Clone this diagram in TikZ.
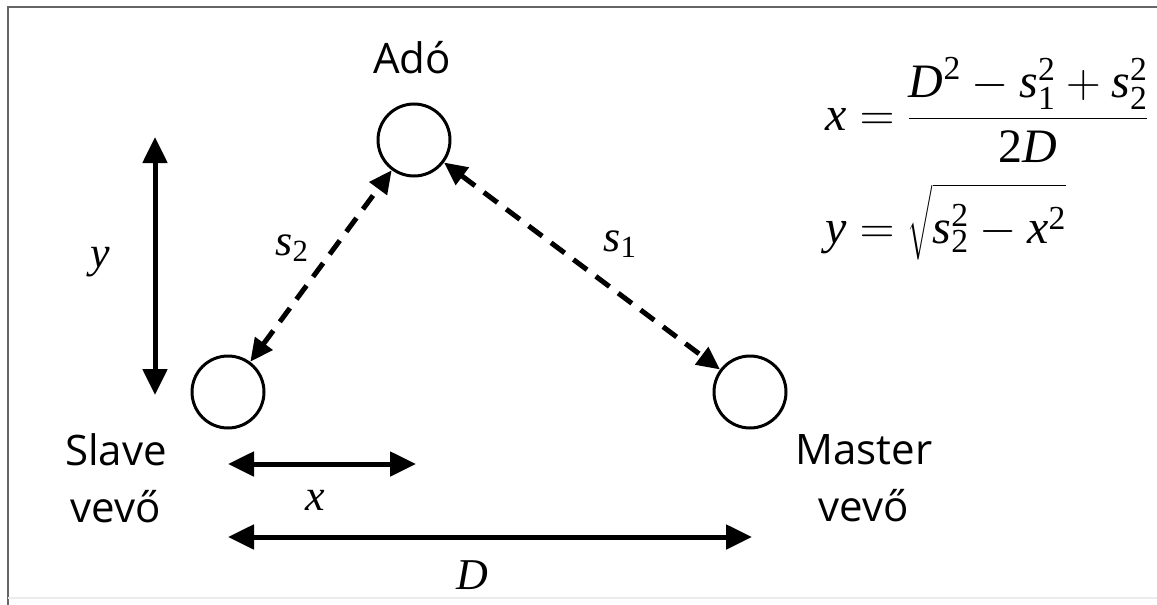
\documentclass[tikz,border=0pt]{standalone}
\usepackage{fix-cm}
\usepackage{amsmath}
\usepackage[no-math]{fontspec}
\setmainfont{Open Sans}
\newfontfamily\tms{Liberation Serif}
\newcommand\mv[1]{\text{\tms\itshape #1}}
\newcommand\mn[1]{\text{\tms #1}}
\usetikzlibrary{arrows.meta}
\begin{document}
\begin{tikzpicture}[x=1pt,y=-1pt,
  dev/.style={circle, draw, line width=3pt, minimum size=72pt, inner sep=0pt},
  lbl/.style={font=\fontsize{42}{57}\selectfont, align=center, inner sep=0pt},
  mlbl/.style={font=\fontsize{44}{52}\selectfont, inner sep=0pt},
  eqlbl/.style={font=\fontsize{48}{56}\selectfont, inner sep=0pt, anchor=base west},
  dimarrow/.style={line width=5pt, {Triangle[length=26pt,width=24pt]}-{Triangle[length=26pt,width=24pt]}},
  rangearrow/.style={line width=5pt, dash pattern=on 17pt off 11pt, {Triangle[length=23pt,width=21pt]}-{Triangle[length=23pt,width=21pt]}},
  frameline/.style={draw=black!60, line width=2pt}]
\useasboundingbox (0,0) rectangle (1157,605);
% frame
\draw[frameline] (1157,7) -- (8,7) -- (8,605);
\draw[draw=black!8, line width=1.5pt] (8,598) -- (1157,598);
% devices
\node[dev] (ado) at (414,140) {};
\node[dev] (slave) at (228,392) {};
\node[dev] (master) at (750,392) {};
% labels
\node[lbl, anchor=base] (adolbl) at (412,73) {Adó};
\node[lbl] (slavelbl) at (116,478) {Slave\\vevő};
\node[lbl] (masterlbl) at (864,478) {Master\\vevő};
% range arrows
\draw[rangearrow] (slave) -- (ado);
\draw[rangearrow] (ado) -- (master);
\node[mlbl] (s2) at (292,248) {$\mv{s}_{\mn{2}}$};
\node[mlbl] (s1) at (620,244) {$\mv{s}_{\mn{1}}$};
% dimension arrows
\coordinate (ytop) at (155,137);
\coordinate (ybot) at (155,395);
\draw[dimarrow] (ybot) -- (ytop);
\node[mlbl] (ylbl) at (100,262) {$\mv{y}$};
\coordinate (xl) at (228,464);
\coordinate (xr) at (416,464);
\draw[dimarrow] (xl) -- (xr);
\node[mlbl] (xlbl) at (315,500) {$\mv{x}$};
\coordinate (dl) at (228,537);
\coordinate (dr) at (752,537);
\draw[dimarrow] (dl) -- (dr);
\node[mlbl] (dlbl) at (472,575) {$\mv{D}$};
% formulas
\node[eqlbl] (eq1) at (825,130) {$\displaystyle \mv{x}=\frac{\mv{D}^{\mn{2}}-\mv{s}_{\mn{1}}^{\mn{2}}+\mv{s}_{\mn{2}}^{\mn{2}}}{\mn{2}\mv{D}}$};
\node[eqlbl] (eq2) at (825,243) {$\displaystyle \mv{y}=\sqrt{\rule[-0.3em]{0pt}{1.3em}\mv{s}_{\mn{2}}^{\mn{2}}-\mv{x}^{\mn{2}}}$};
\end{tikzpicture}
\end{document}
